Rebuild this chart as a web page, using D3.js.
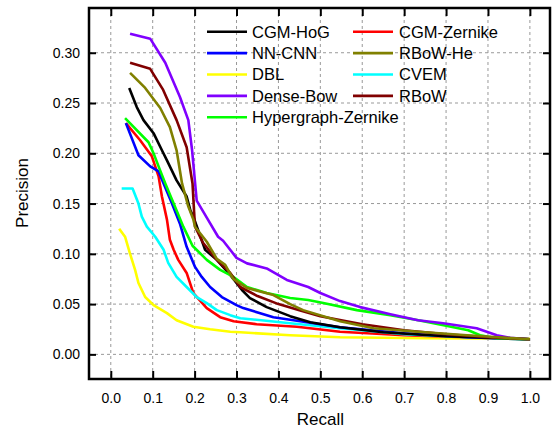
<!DOCTYPE html>
<html>
<head>
<meta charset="utf-8">
<script src="https://cdn.jsdelivr.net/npm/d3@7"></script>
<style>
  body { margin: 0; background: #fff; }
  text { font-family: Arial, "Liberation Sans", sans-serif; }
</style>
</head>
<body>
<div id="chart"></div>
<script>
// datos (recall, precision)
const names = ["CGM-HoG", "CGM-Zernike", "NN-CNN", "RBoW-He", "DBL", "CVEM", "Dense-Bow", "RBoW", "Hypergraph-Zernike"];
const colors = ["#000000", "#ff0000", "#0000ff", "#808000", "#ffff00", "#00ffff", "#8000ff", "#800000", "#00ff00"];
const xTicks = [0, 0.1, 0.2, 0.3, 0.4, 0.5, 0.6, 0.7, 0.8, 0.9, 1.0];
const yTicks = [0, 0.05, 0.10, 0.15, 0.20, 0.25, 0.30];

const cgmHog = [[0.044,0.265],[0.062,0.246],[0.078,0.233],[0.102,0.22],[0.122,0.203],[0.134,0.193],[0.157,0.173],[0.181,0.157],[0.19,0.143],[0.197,0.137],[0.225,0.104],[0.253,0.094],[0.285,0.079],[0.313,0.064],[0.332,0.056],[0.372,0.047],[0.428,0.038],[0.476,0.032],[0.547,0.027],[0.65,0.022],[0.8,0.018],[1.0,0.015]];
const cgmZernike = [[0.036,0.230],[0.07,0.213],[0.098,0.197],[0.114,0.177],[0.122,0.157],[0.134,0.134],[0.141,0.114],[0.15,0.104],[0.161,0.094],[0.181,0.081],[0.197,0.061],[0.229,0.046],[0.261,0.037],[0.293,0.033],[0.348,0.030],[0.444,0.0275],[0.547,0.0225],[0.7,0.019],[0.85,0.017],[1.0,0.015]];
const nnCnn = [[0.036,0.230],[0.066,0.198],[0.094,0.187],[0.114,0.182],[0.126,0.17],[0.146,0.15],[0.165,0.13],[0.181,0.107],[0.201,0.087],[0.217,0.077],[0.237,0.067],[0.265,0.057],[0.3,0.049],[0.316,0.046],[0.388,0.037],[0.468,0.032],[0.547,0.027],[0.7,0.021],[0.85,0.017],[1.0,0.015]];
const rbowHe = [[0.046,0.280],[0.082,0.265],[0.118,0.245],[0.141,0.226],[0.157,0.203],[0.17,0.17],[0.185,0.147],[0.197,0.134],[0.201,0.127],[0.229,0.112],[0.253,0.095],[0.273,0.089],[0.292,0.075],[0.325,0.066],[0.388,0.059],[0.428,0.050],[0.459,0.044],[0.547,0.033],[0.627,0.026],[0.733,0.0225],[0.85,0.019],[1.0,0.015]];
const dbl = [[0.02,0.125],[0.034,0.117],[0.046,0.1],[0.058,0.084],[0.066,0.071],[0.082,0.057],[0.102,0.049],[0.134,0.041],[0.157,0.034],[0.197,0.0275],[0.237,0.025],[0.285,0.0225],[0.309,0.022],[0.428,0.019],[0.547,0.017],[0.75,0.016],[1.0,0.0155]];
const cvem = [[0.026,0.165],[0.052,0.165],[0.066,0.15],[0.074,0.137],[0.086,0.127],[0.106,0.117],[0.126,0.104],[0.137,0.091],[0.157,0.077],[0.181,0.067],[0.205,0.057],[0.229,0.051],[0.253,0.044],[0.285,0.039],[0.309,0.036],[0.428,0.031],[0.547,0.026],[0.7,0.020],[0.85,0.017],[1.0,0.015]];
const denseBow = [[0.046,0.319],[0.094,0.314],[0.13,0.29],[0.165,0.256],[0.185,0.233],[0.194,0.203],[0.205,0.153],[0.229,0.136],[0.256,0.117],[0.268,0.113],[0.3,0.096],[0.325,0.0905],[0.372,0.0855],[0.42,0.074],[0.471,0.067],[0.5,0.061],[0.547,0.053],[0.595,0.047],[0.667,0.040],[0.733,0.034],[0.793,0.031],[0.873,0.026],[0.921,0.019],[0.953,0.0165],[1.0,0.015]];
const rbow = [[0.046,0.290],[0.094,0.284],[0.125,0.263],[0.157,0.233],[0.181,0.206],[0.195,0.17],[0.199,0.14],[0.201,0.127],[0.22,0.111],[0.253,0.094],[0.285,0.081],[0.309,0.067],[0.35,0.058],[0.4,0.050],[0.45,0.044],[0.5,0.038],[0.6,0.030],[0.7,0.024],[0.8,0.020],[0.9,0.017],[1.0,0.015]];
const hyperZernike = [[0.034,0.235],[0.09,0.211],[0.102,0.2],[0.114,0.187],[0.13,0.17],[0.153,0.147],[0.173,0.127],[0.195,0.108],[0.229,0.094],[0.261,0.084],[0.293,0.077],[0.325,0.067],[0.372,0.061],[0.428,0.056],[0.471,0.054],[0.507,0.051],[0.587,0.044],[0.667,0.039],[0.734,0.034],[0.794,0.029],[0.853,0.024],[0.881,0.019],[0.921,0.016],[1.0,0.015]];

const series = [cgmHog, cgmZernike, nnCnn, rbowHe, dbl, cvem, denseBow, rbow, hyperZernike];
// orden de dibujo (el ultimo queda encima)
const drawOrder = [4, 1, 5, 2, 0, 8, 6, 7, 3];

const WIDTH = 554;
const HEIGHT = 432;
const margin = { top: 8, right: 4, bottom: 53, left: 89 };
const width = WIDTH - margin.left - margin.right;
const height = HEIGHT - margin.top - margin.bottom;

const svg = d3.select("#chart")
  .append("svg")
  .attr("width", WIDTH)
  .attr("height", HEIGHT);

const g = svg.append("g")
  .attr("transform", `translate(${margin.left}, ${margin.top})`);

const x = d3.scaleLinear().domain([-0.052, 1.048]).range([0, width]);
const y = d3.scaleLinear().domain([-0.0245, 0.3445]).range([height, 0]);

// Rejilla
g.append("g")
  .selectAll("line")
  .data(xTicks)
  .join("line")
  .attr("x1", d => x(d)).attr("x2", d => x(d))
  .attr("y1", 0).attr("y2", height)
  .attr("stroke", "#999").attr("stroke-width", 1).attr("stroke-dasharray", "3,3");

g.append("g")
  .selectAll("line")
  .data(yTicks)
  .join("line")
  .attr("y1", d => y(d)).attr("y2", d => y(d))
  .attr("x1", 0).attr("x2", width)
  .attr("stroke", "#999").attr("stroke-width", 1).attr("stroke-dasharray", "3,3");

// Curvas
const line = d3.line()
  .x(d => x(d[0]))
  .y(d => y(d[1]));

g.append("g")
  .selectAll("path")
  .data(drawOrder)
  .join("path")
  .attr("d", i => line(series[i]))
  .attr("fill", "none")
  .attr("stroke", i => colors[i])
  .attr("stroke-width", 2.6)
  .attr("stroke-linejoin", "round");

// Ejes (ticks hacia dentro)
g.append("g")
  .attr("transform", `translate(0, ${height})`)
  .call(d3.axisBottom(x).tickValues(xTicks).tickFormat(d3.format(".1f")).tickSize(-8).tickPadding(14));
g.append("g")
  .call(d3.axisLeft(y).tickValues(yTicks).tickFormat(d3.format(".2f")).tickSize(-7).tickPadding(9));
g.append("g")
  .attr("transform", `translate(${width}, 0)`)
  .call(d3.axisRight(y).tickValues(yTicks).tickFormat("").tickSize(-7));
g.append("g")
  .call(d3.axisTop(x).tickValues(xTicks).tickFormat("").tickSize(-8));

g.selectAll(".domain").remove();
g.selectAll(".tick line").attr("stroke", "#000").attr("stroke-width", 2);
g.selectAll(".tick text").attr("font-size", "14px").attr("fill", "#000")
  .attr("font-family", "Arial, 'Liberation Sans', sans-serif");

// Marco
g.append("rect")
  .attr("x", 0).attr("y", 0)
  .attr("width", width).attr("height", height)
  .attr("fill", "none").attr("stroke", "#000").attr("stroke-width", 2.5);

// Titulos de ejes
svg.append("text")
  .attr("x", margin.left + x(0.5))
  .attr("y", 425)
  .attr("text-anchor", "middle")
  .attr("font-size", "17px")
  .text("Recall");

svg.append("text")
  .attr("transform", `translate(28, ${193}) rotate(-90)`)
  .attr("text-anchor", "middle")
  .attr("font-size", "17px")
  .text("Precision");

// Leyenda
const legend = svg.append("g").attr("id", "legend");
const legendItems = legend.selectAll("g")
  .data(names)
  .join("g")
  .attr("transform", (d, i) => `translate(${i % 2 === 0 ? 207 : 353}, ${31.7 + Math.floor(i / 2) * 21.4})`);

legendItems.append("line")
  .attr("x1", 0).attr("x2", 40)
  .attr("y1", 0).attr("y2", 0)
  .attr("stroke", (d, i) => colors[i])
  .attr("stroke-width", 2.6);

legendItems.append("text")
  .attr("x", (d, i) => i % 2 === 0 ? 45 : 46)
  .attr("y", 0)
  .attr("dy", "0.36em")
  .attr("font-size", "16.5px")
  .text(d => d);
</script>
</body>
</html>
